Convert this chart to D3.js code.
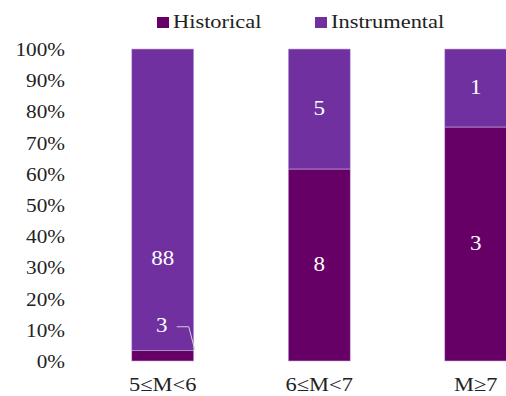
<!DOCTYPE html>
<html>
<head>
<meta charset="utf-8">
<script src="https://cdn.jsdelivr.net/npm/d3@7"></script>
<style>
  html, body { margin: 0; padding: 0; background: #fff; }
  svg { display: block; }
  text { font-family: "Liberation Serif", "Times New Roman", serif; }
</style>
</head>
<body>
<svg id="chart" width="506" height="396"></svg>
<script>
// Magnitude classes and event counts per catalogue type
const categories = ["5\u2264M<6", "6\u2264M<7", "M\u22657"];
const historical = [3, 8, 3];
const instrumental = [88, 5, 1];
const seriesNames = ["Historical", "Instrumental"];
const seriesColors = ["#660066", "#7030A0"];
const yTicks = [0, 0.1, 0.2, 0.3, 0.4, 0.5, 0.6, 0.7, 0.8, 0.9, 1.0];

const svg = d3.select("#chart");
const stretch = 1.15; // glyphs are drawn slightly wide

const x = d3.scaleBand().domain(categories).range([84.5, 554]).paddingInner(0.604).paddingOuter(0.302);
const y = d3.scaleLinear().domain([0, 1]).range([361, 49]);

// Stack shares (fraction of class total)
const rows = categories.map((c, i) => ({ cat: c, Historical: historical[i], Instrumental: instrumental[i], total: historical[i] + instrumental[i] }));
const stack = d3.stack().keys(seriesNames).value((d, k) => d[k] / d.total);
const layers = stack(rows);

// Y axis labels
const yAxis = d3.axisLeft(y).tickValues(yTicks).tickFormat(d3.format(".0%")).tickSize(0).tickPadding(0);
const gy = svg.append("g").attr("transform", "translate(65,0)").call(yAxis);
gy.select(".domain").remove();
gy.selectAll(".tick text")
  .attr("x", null).attr("dy", null)
  .attr("font-size", 18.5).attr("fill", "#222")
  .attr("dominant-baseline", "central")
  .attr("text-anchor", "end")
  .attr("transform", `scale(${stretch},1)`);

// Bars
const colorOf = d3.scaleOrdinal().domain(seriesNames).range(seriesColors);
svg.append("g").selectAll("g").data(layers).join("g")
  .attr("fill", d => colorOf(d.key))
  .selectAll("rect").data(d => d).join("rect")
  .attr("x", d => x(d.data.cat))
  .attr("width", x.bandwidth())
  .attr("y", d => y(d[1]))
  .attr("height", d => y(d[0]) - y(d[1]))
  .attr("stroke", "#c8b0e0").attr("stroke-width", 0.6);

// Value labels inside the segments
const labels = [];
layers.forEach(layer => {
  layer.forEach(d => {
    labels.push({ key: layer.key, cat: d.data.cat, v: d.data[layer.key], y0: d[0], y1: d[1] });
  });
});

const lab = svg.append("g");
function valueText(cx, cy, v) {
  lab.append("g").attr("transform", `translate(${cx},${cy}) scale(${stretch},1)`)
    .append("text").attr("text-anchor", "middle").attr("dominant-baseline", "central")
    .attr("font-size", 20).attr("fill", "#fff").text(v);
}
labels.forEach(l => {
  const cx = x(l.cat) + x.bandwidth() / 2;
  let cy = (y(l.y0) + y(l.y1)) / 2;
  const small = (l.y1 - l.y0) < 0.08;
  if (l.key === "Instrumental" && l.cat === categories[0]) cy = y(0.33);
  if (small) {
    // thin slice: label above it with a leader line to the bar corner
    cy = y(l.y1 + 0.08);
    const lx = cx + 14, ly = cy + 1;
    lab.append("path")
      .attr("d", `M${lx},${ly}H${lx + 12}L${x(l.cat) + x.bandwidth() + 1},${y(l.y1) - 1}`)
      .attr("fill", "none").attr("stroke", "#d0d0d0").attr("stroke-width", 1);
    valueText(cx - 1, cy, l.v);
  } else {
    valueText(cx, cy, l.v);
  }
});

// X axis labels
categories.forEach(c => {
  svg.append("g").attr("transform", `translate(${x(c) + x.bandwidth() / 2},385) scale(${stretch},1)`)
    .append("text").attr("text-anchor", "middle").attr("dominant-baseline", "central")
    .attr("font-size", 19.5).attr("fill", "#222").text(c);
});

// Legend
const legendX = [157, 315];
seriesNames.forEach((s, i) => {
  const g = svg.append("g").attr("transform", `translate(${legendX[i]},0)`);
  g.append("rect").attr("x", 0).attr("y", 17).attr("width", 12).attr("height", 11).attr("fill", seriesColors[i]);
  g.append("g").attr("transform", `translate(16,22) scale(${stretch},1)`)
    .append("text").attr("dominant-baseline", "central")
    .attr("font-size", 19.5).attr("fill", "#222").text(s);
});
</script>
</body>
</html>
